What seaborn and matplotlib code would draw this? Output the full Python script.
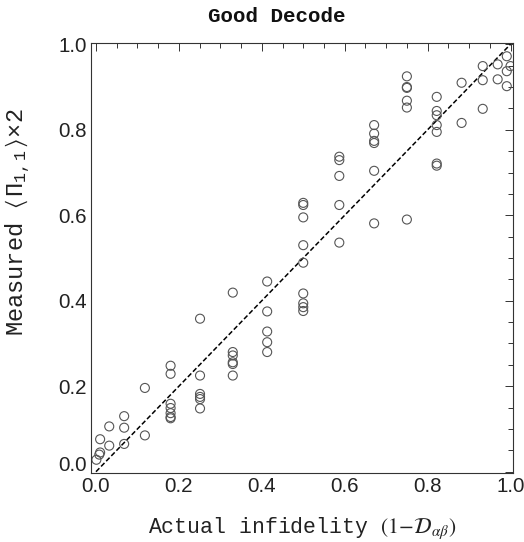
import matplotlib
matplotlib.use("Agg")
import matplotlib.pyplot as plt
import matplotlib.transforms as mtransforms
from matplotlib.ticker import MultipleLocator
import numpy as np
import pandas as pd
import seaborn as sns

# ---- data ----
actual_infidelity = [
    0.001, 0.008, 0.010, 0.010,
    0.032, 0.032,
    0.068, 0.068, 0.068,
    0.118, 0.118,
    0.180, 0.180, 0.180, 0.180, 0.180, 0.180, 0.180,
    0.251, 0.251, 0.251, 0.251, 0.251, 0.251,
    0.330, 0.330, 0.330, 0.330, 0.330, 0.330,
    0.413, 0.413, 0.413, 0.413, 0.413,
    0.500, 0.500, 0.500, 0.500, 0.500, 0.500, 0.500, 0.500, 0.500,
    0.587, 0.587, 0.587, 0.587, 0.587,
    0.671, 0.671, 0.671, 0.671, 0.671, 0.671,
    0.750, 0.750, 0.750, 0.750, 0.750, 0.750,
    0.822, 0.822, 0.822, 0.822, 0.822, 0.822, 0.822,
    0.882, 0.882,
    0.933, 0.933, 0.933,
    0.969, 0.969,
    0.991, 0.991, 0.991, 1.000,
]
measured = [
    0.028, 0.040, 0.045, 0.076,
    0.061, 0.106,
    0.065, 0.103, 0.130,
    0.085, 0.196,
    0.248, 0.229, 0.159, 0.149, 0.137, 0.128, 0.125,
    0.358, 0.225, 0.182, 0.175, 0.170, 0.148,
    0.419, 0.280, 0.272, 0.256, 0.252, 0.225,
    0.445, 0.375, 0.328, 0.303, 0.280,
    0.629, 0.624, 0.595, 0.530, 0.489, 0.417, 0.394, 0.385, 0.376,
    0.737, 0.729, 0.692, 0.624, 0.536,
    0.811, 0.791, 0.774, 0.769, 0.704, 0.581,
    0.925, 0.900, 0.898, 0.868, 0.852, 0.590,
    0.877, 0.844, 0.834, 0.811, 0.795, 0.721, 0.716,
    0.910, 0.816,
    0.949, 0.916, 0.849,
    0.953, 0.918,
    0.972, 0.937, 0.902, 0.949,
]
ideal_line = [0.0, 1.0]
tick_values = [0.0, 0.2, 0.4, 0.6, 0.8, 1.0]
tick_labels = ["0.0", "0.2", "0.4", "0.6", "0.8", "1.0"]

df = pd.DataFrame({"actual": actual_infidelity, "measured": measured})
line_df = pd.DataFrame({"x": ideal_line, "y": ideal_line})

sns.set_style("white")
plt.rcParams["font.family"] = ["Liberation Sans", "DejaVu Sans"]
plt.rcParams["mathtext.fontset"] = "stix"
plt.rcParams["mathtext.rm"] = "Liberation Mono"
plt.rcParams["mathtext.it"] = "Liberation Mono"
plt.rcParams["mathtext.fallback"] = "stix"

fig = plt.figure(figsize=(5.24, 5.42), dpi=100)
ax = fig.add_axes([91 / 524, 1 - 473 / 542, (513 - 91) / 524, (473 - 43) / 542])

sns.lineplot(data=line_df, x="x", y="y", ax=ax, color="black",
             linestyle=(0, (3.2, 1.6)), linewidth=1.1, zorder=1)
sns.scatterplot(data=df, x="actual", y="measured", ax=ax, marker="o",
                s=42, facecolors="none", edgecolor="#555555",
                linewidth=0.8, zorder=2)

ax.set_xlim(-0.012, 1.006)
ax.set_ylim(-0.003, 1.003)
ax.set_xticks(tick_values)
ax.set_xticklabels(tick_labels)
ax.set_yticks(tick_values)
ax.set_yticklabels(tick_labels)
ax.xaxis.set_minor_locator(MultipleLocator(0.05))
ax.yaxis.set_minor_locator(MultipleLocator(0.05))
ax.tick_params(which="both", direction="in", top=True, right=True,
               color="#333333", width=0.7)
ax.tick_params(which="major", length=6, labelsize=14.8, pad=3,
               labelcolor="#222222")
ax.tick_params(which="minor", length=3.5)
for sp in ax.spines.values():
    sp.set_color("#333333")
    sp.set_linewidth(0.8)

# raise the y "0.0" label a bit like the reference
lab0 = ax.get_yticklabels()[0]
lab0.set_transform(lab0.get_transform() +
                   mtransforms.ScaledTranslation(0, 8 / 100, fig.dpi_scale_trans))

ax.set_xlabel(r"Actual infidelity $(1\!-\!\mathcal{D}_{\alpha\beta})$",
              family="Liberation Mono", fontsize=15.5, color="#222222",
              labelpad=14, math_fontfamily="stix")
ax.set_ylabel(r"Measured $\langle\,\Pi_{1,1}\,\rangle\!\times\!2$",
              family="Liberation Mono", fontsize=17, color="#222222",
              math_fontfamily="custom")
ax.yaxis.set_label_coords((33 - 91) / 422, (473 - 222) / 430)
fig.text(277 / 524, 1 - 17 / 542, "Good Decode", family="Liberation Mono",
         fontsize=15, fontweight="bold", ha="center", va="center",
         color="#111111")

fig.savefig("out.png", dpi=100, facecolor="white")
